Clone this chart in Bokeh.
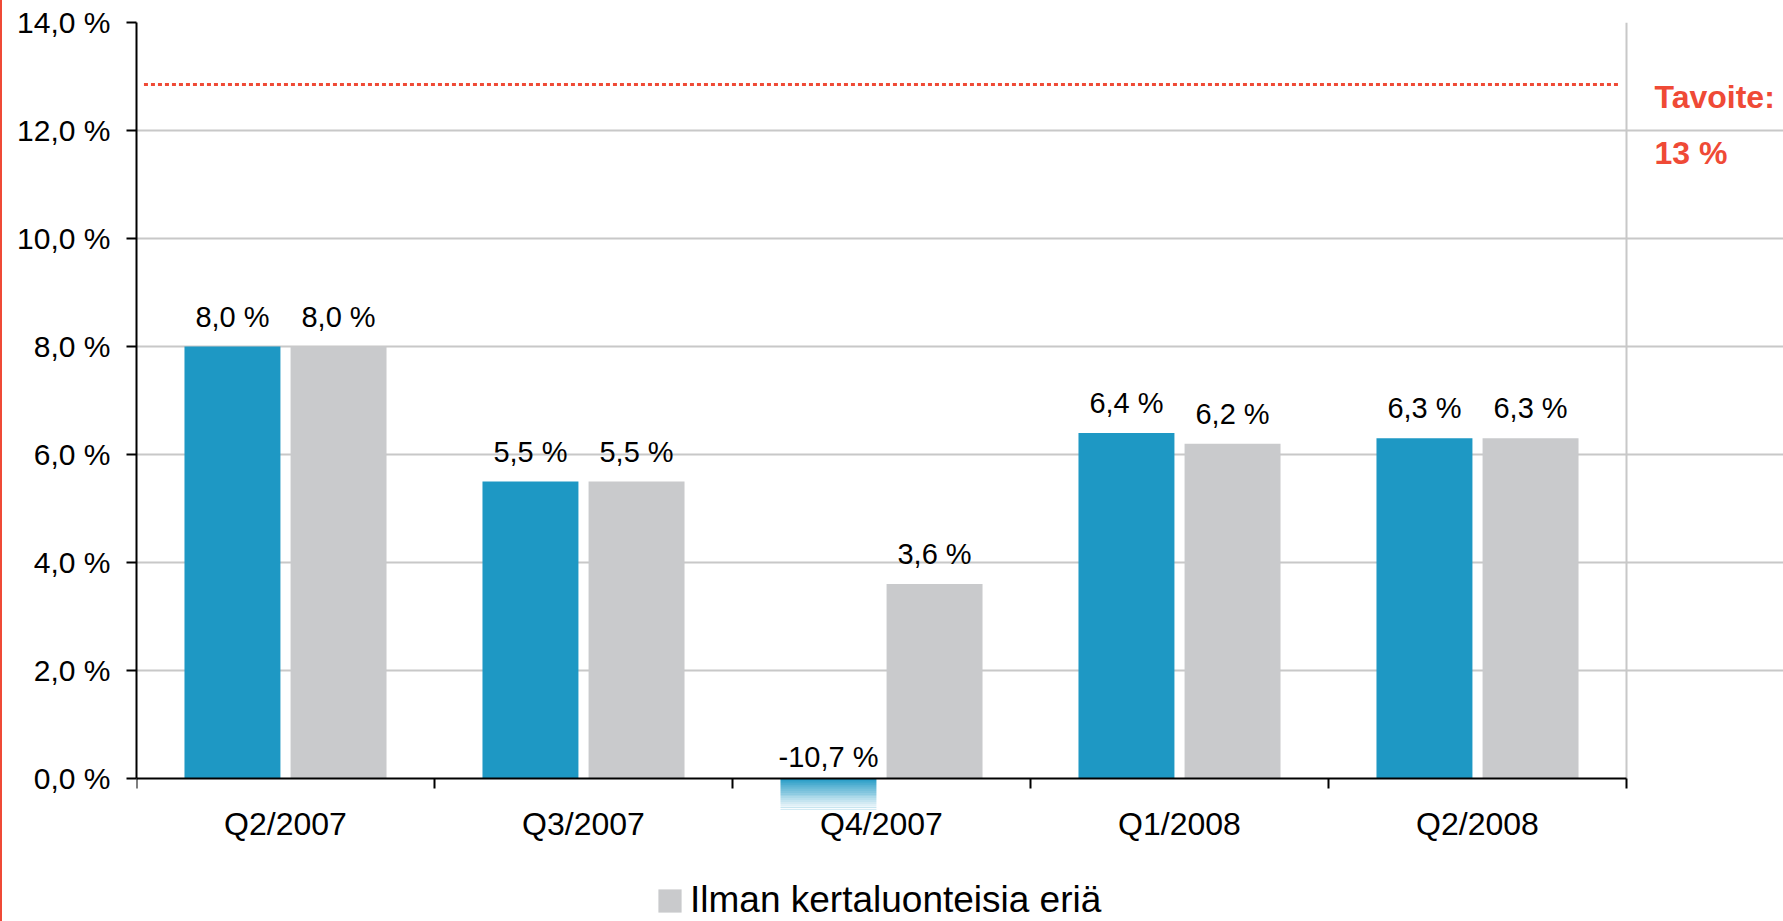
import numpy as np
from bokeh.plotting import figure
from bokeh.models import (Range1d, FixedTicker, Label, Legend, LegendItem,
                          ColumnDataSource, LinearAxis, Grid)
from bokeh.core.properties import value
from bokeh.embed import file_html
from bokeh.resources import INLINE

# ---------------- data ----------------
categories = ["Q2/2007", "Q3/2007", "Q4/2007", "Q1/2008", "Q2/2008"]
reported = [8.0, 5.5, -10.7, 6.4, 6.3]
excluding = [8.0, 5.5, 3.6, 6.2, 6.3]
legend_label = "Ilman kertaluonteisia eriä"
target_value = 12.85
target_title = "Tavoite:"
target_text = "13 %"
y_ticks = [0, 2, 4, 6, 8, 10, 12, 14]
y_tick_labels = ["0,0 %", "2,0 %", "4,0 %", "6,0 %", "8,0 %", "10,0 %", "12,0 %", "14,0 %"]

# ---------------- style ----------------
FONT = "Liberation Sans"
BLUE = "#1e98c4"
GRAY = "#c9cacc"
RED = "#ef4a36"
GRID = "#c8c8c8"
Y_MAX = 14
Y_MIN = -2.648      # frame reaches the bottom of the page
FADE_TO = -0.58     # fade of the clipped negative bar
BAR_W = 0.322
OFF = 0.178

n = len(categories)
X_MAX = n * 1647 / 1490   # frame reaches the right edge of the page
centers = np.arange(n) + 0.5
bounds_ticks = list(np.arange(n + 1).astype(float))


def fmt(v):
    return ("%.1f" % v).replace(".", ",") + " %"


p = figure(width=1783, height=921,
           x_range=Range1d(0, X_MAX), y_range=Range1d(Y_MIN, Y_MAX),
           output_backend="svg", toolbar_location=None,
           x_axis_location=None, y_axis_location=None,
           min_border_left=136, min_border_right=0,
           min_border_top=22, min_border_bottom=0)
p.outline_line_color = None
p.border_fill_color = None
p.background_fill_color = None
p.styles = {"box-shadow": "inset 2px 0 0 0 " + RED}

for g in list(p.center):
    if isinstance(g, Grid):
        g.visible = False

# grid
p.add_layout(Grid(dimension=1, ticker=FixedTicker(ticks=y_ticks[1:]),
                  bounds=(0, n), grid_line_color=GRID, grid_line_width=2))
# right border of the plot area
p.segment(x0=[n], y0=[0], x1=[n], y1=[Y_MAX], line_color=GRID, line_width=2)

# bars
src_a = ColumnDataSource(dict(x=centers - OFF, top=reported))
src_b = ColumnDataSource(dict(x=centers + OFF, top=excluding))
r_a = p.vbar(x="x", top="top", bottom=0, width=BAR_W, source=src_a,
             fill_color=BLUE, line_color=None)
r_b = p.vbar(x="x", top="top", bottom=0, width=BAR_W, source=src_b,
             fill_color=GRAY, line_color=None)

# fade of the negative bar below zero, then white below the fade
nb = 16
edges = np.linspace(0, FADE_TO, nb + 1)
p.quad(left=0, right=n, top=edges[:-1], bottom=edges[1:],
       fill_color="white", fill_alpha=list(((np.arange(nb) + 0.5) / nb) ** 0.9),
       line_color=None)
p.quad(left=0, right=n, top=FADE_TO, bottom=Y_MIN,
       fill_color="white", line_color=None)

# value labels
lab_x = list(centers - OFF) + list(centers + OFF)
lab_v = reported + excluding
lab_src = ColumnDataSource(dict(
    x=lab_x,
    y=[max(v, 0) for v in lab_v],
    text=[fmt(v) for v in lab_v],
    yo=[-30 if v >= 0 else -22 for v in lab_v],
))
p.text(x="x", y="y", text="text", y_offset="yo", source=lab_src,
       text_align="center", text_baseline="alphabetic",
       text_font=value(FONT), text_font_size="29px", text_color="black")

# target line
p.segment(x0=[0.025], y0=[target_value], x1=[n - 0.025], y1=[target_value],
          line_color=RED, line_width=3, line_dash="4 3")
p.add_layout(Label(x=1518, y=825, x_units="screen", y_units="screen",
                   text=target_title, text_color=RED, text_font=FONT,
                   text_baseline="alphabetic",
                   text_font_style="bold", text_font_size="32px"))
p.add_layout(Label(x=1518, y=769, x_units="screen", y_units="screen",
                   text=target_text, text_color=RED, text_font=FONT,
                   text_baseline="alphabetic",
                   text_font_style="bold", text_font_size="32px"))

# y axis
yax = LinearAxis(ticker=FixedTicker(ticks=y_ticks, minor_ticks=[]), bounds=(0, Y_MAX))
yax.major_label_overrides = {t: l for t, l in zip(y_ticks, y_tick_labels)}
yax.axis_line_color = "black"
yax.axis_line_width = 2
yax.major_tick_line_color = "black"
yax.major_tick_line_width = 2
yax.major_tick_out = 10
yax.major_tick_in = 0
yax.minor_tick_line_color = None
yax.major_label_standoff = 16
yax.major_label_text_font = FONT
yax.major_label_text_font_size = "30px"
yax.major_label_text_color = "black"
p.add_layout(yax, "left")

# x axis at zero
xax = LinearAxis(ticker=FixedTicker(ticks=list(centers), minor_ticks=bounds_ticks),
                 fixed_location=0, bounds=(0, n))
xax.major_label_overrides = {float(c): cat for c, cat in zip(centers, categories)}
xax.axis_line_color = "black"
xax.axis_line_width = 2
xax.major_tick_line_color = None
xax.major_tick_out = 0
xax.major_tick_in = 0
xax.minor_tick_line_color = "black"
xax.minor_tick_line_width = 2
xax.minor_tick_out = 10
xax.minor_tick_in = 0
xax.major_label_standoff = 17
xax.major_label_text_font = FONT
xax.major_label_text_font_size = "32px"
xax.major_label_text_color = "black"
p.add_layout(xax, "below")

# legend (inside the frame, which reaches the page bottom)
legend = Legend(items=[LegendItem(label=legend_label, renderers=[r_b])],
                location=(519, 0), orientation="horizontal",
                glyph_width=29, glyph_height=29, label_standoff=6,
                label_text_font=FONT, label_text_font_size="37px",
                label_text_color="black",
                label_height=24, padding=0, margin=0, spacing=0,
                border_line_color=None, background_fill_alpha=0)
p.add_layout(legend)

open("out.html", "w").write(file_html(p, INLINE))
